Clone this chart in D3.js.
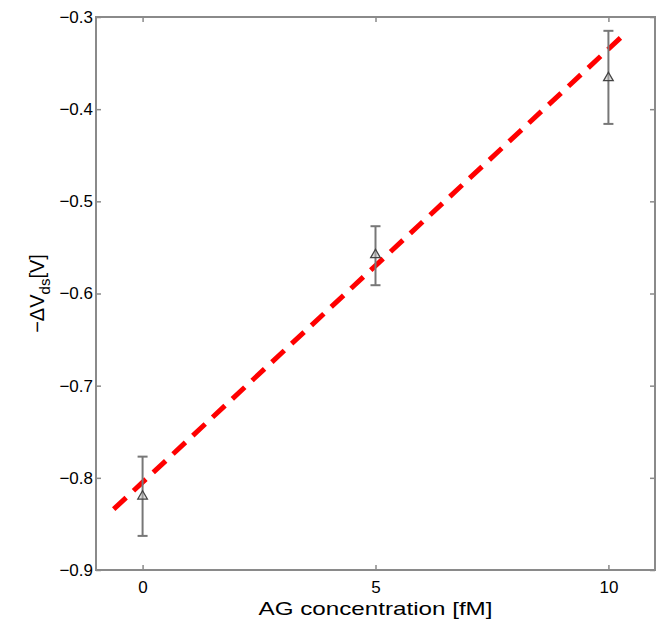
<!DOCTYPE html>
<html>
<head>
<meta charset="utf-8">
<script src="https://cdn.jsdelivr.net/npm/d3@7/dist/d3.min.js"></script>
<style>
  body { margin: 0; background: #fff; }
  text { font-family: "Liberation Sans", Arial, sans-serif; }
</style>
</head>
<body>
<div id="chart"></div>
<script>
// data
var concentration = [0, 5, 10];
var meanVds = [-0.82, -0.558, -0.366];
var errTop = [-0.777, -0.527, -0.315];
var errBottom = [-0.863, -0.591, -0.416];

// fitted line endpoints
var fitX = [-0.62, 10.4];
var fitY = [-0.834, -0.316];

var xTicks = [0, 5, 10];
var yTicks = [-0.9, -0.8, -0.7, -0.6, -0.5, -0.4, -0.3];

var width = 664, height = 624;
var margin = {left: 96, right: 9, top: 17, bottom: 54};

var svg = d3.select("#chart").append("svg")
    .attr("width", width)
    .attr("height", height);

var x = d3.scaleLinear().domain([-1, 11]).range([margin.left, width - margin.right]);
var y = d3.scaleLinear().domain([-0.9, -0.3]).range([height - margin.bottom, margin.top]);

var axisColor = "#8a8a8a";

// frame
svg.append("rect")
    .attr("x", x(-1)).attr("y", y(-0.3))
    .attr("width", x(11) - x(-1)).attr("height", y(-0.9) - y(-0.3))
    .attr("fill", "none").attr("stroke", axisColor).attr("stroke-width", 2);

var fmt = function(d){ return d3.format(".1f")(d).replace("-", "\u2212"); };

// bottom and top axes, ticks pointing inward
var gx = svg.append("g").attr("transform", "translate(0," + y(-0.9) + ")")
    .call(d3.axisBottom(x).tickValues(xTicks).tickSizeInner(-5).tickSizeOuter(0).tickPadding(11));
var gxt = svg.append("g").attr("transform", "translate(0," + y(-0.3) + ")")
    .call(d3.axisTop(x).tickValues(xTicks).tickSizeInner(-5).tickSizeOuter(0).tickFormat(""));
var gy = svg.append("g").attr("transform", "translate(" + x(-1) + ",0)")
    .call(d3.axisLeft(y).tickValues(yTicks).tickSizeInner(-5).tickSizeOuter(0).tickPadding(3).tickFormat(fmt));
var gyr = svg.append("g").attr("transform", "translate(" + x(11) + ",0)")
    .call(d3.axisRight(y).tickValues(yTicks).tickSizeInner(-5).tickSizeOuter(0).tickFormat(""));

[gx, gxt, gy, gyr].forEach(function(g){
    g.select(".domain").remove();
    g.selectAll(".tick line").attr("stroke", axisColor).attr("stroke-width", 1.5);
    g.selectAll("text").attr("fill", "#000").style("font-size", "17px");
});

// fit line
svg.append("path")
    .datum(d3.zip(fitX, fitY))
    .attr("d", d3.line().x(function(d){ return x(d[0]); }).y(function(d){ return y(d[1]); }))
    .attr("fill", "none")
    .attr("stroke", "#ff0000")
    .attr("stroke-width", 5)
    .attr("stroke-dasharray", "17,10");

// error bars
var pts = concentration.map(function(c, i){
    return {x: c, m: meanVds[i], t: errTop[i], b: errBottom[i]};
});
var eb = svg.append("g").attr("stroke", "#777").attr("stroke-width", 2);
eb.selectAll(".v").data(pts).enter().append("line")
    .attr("x1", function(d){ return x(d.x); }).attr("x2", function(d){ return x(d.x); })
    .attr("y1", function(d){ return y(d.t); }).attr("y2", function(d){ return y(d.b); });
eb.selectAll(".ct").data(pts).enter().append("line")
    .attr("x1", function(d){ return x(d.x) - 5; }).attr("x2", function(d){ return x(d.x) + 5; })
    .attr("y1", function(d){ return y(d.t); }).attr("y2", function(d){ return y(d.t); });
eb.selectAll(".cb").data(pts).enter().append("line")
    .attr("x1", function(d){ return x(d.x) - 5; }).attr("x2", function(d){ return x(d.x) + 5; })
    .attr("y1", function(d){ return y(d.b); }).attr("y2", function(d){ return y(d.b); });

// markers
svg.selectAll(".mk").data(pts).enter().append("path")
    .attr("d", d3.symbol().type(d3.symbolTriangle).size(40))
    .attr("transform", function(d){ return "translate(" + x(d.x) + "," + y(d.m) + ")"; })
    .attr("fill", "#bbb").attr("fill-opacity", 0.5)
    .attr("stroke", "#444").attr("stroke-width", 1.3);

// axis titles
svg.append("text")
    .attr("x", x(5)).attr("y", 615)
    .attr("text-anchor", "middle")
    .attr("textLength", 234)
    .attr("lengthAdjust", "spacingAndGlyphs")
    .style("font-size", "19px")
    .text("AG concentration [fM]");

var yl = svg.append("text")
    .attr("transform", "translate(44," + ((y(-0.3) + y(-0.9)) / 2) + ") rotate(-90)")
    .attr("text-anchor", "middle")
    .style("font-size", "20px");
yl.append("tspan").text("\u2212\u0394V");
yl.append("tspan").attr("dy", 6).style("font-size", "15px").text("ds");
yl.append("tspan").attr("dy", -6).text("[V]");
</script>
</body>
</html>
